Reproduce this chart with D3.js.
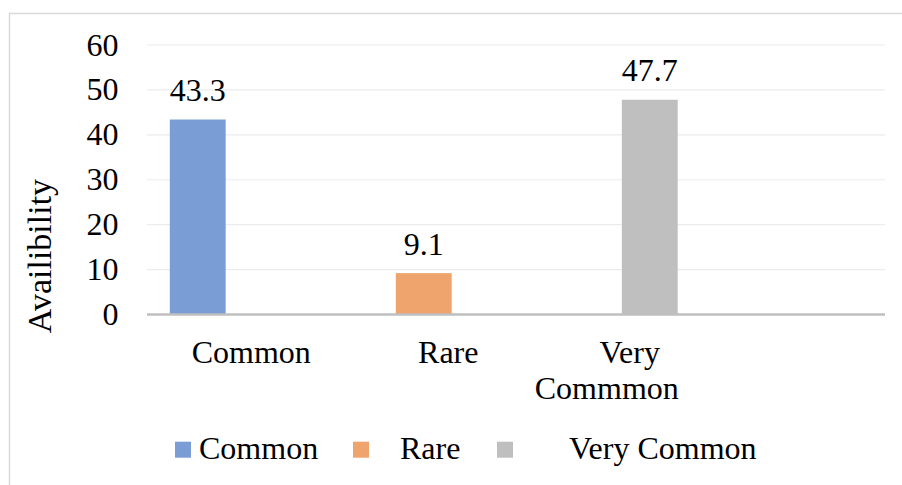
<!DOCTYPE html>
<html>
<head>
<meta charset="utf-8">
<script src="https://cdn.jsdelivr.net/npm/d3@7"></script>
<style>
  html, body { margin: 0; padding: 0; background: #fff; }
  svg { display: block; }
  svg text { font-family: "Liberation Serif", "Times New Roman", serif; fill: #000; }
</style>
</head>
<body>
<svg id="chart" width="902" height="485"></svg>
<script>
// Category slots on the x axis (the last slot is left empty)
const categories = ["Common", "Rare", "Very Commmon", ""];
// Series names, as shown in the legend
const seriesNames = ["Common", "Rare", "Very Common"];
// Values per series, one entry per category slot
const commonValues = [43.3, null, null, null];
const rareValues = [null, 9.1, null, null];
const veryCommonValues = [null, null, 47.7, null];
// Y axis ticks
const yTicks = [0, 10, 20, 30, 40, 50, 60];
const seriesColors = ["#7b9dd5", "#f0a46d", "#bfbfbf"];

const seriesValues = [commonValues, rareValues, veryCommonValues];

const svg = d3.select("#chart");
const W = 902, H = 485;
const plot = { left: 147, right: 885, top: 44.5, bottom: 314 };
const FS = 32;
const FONT = "Liberation Serif";

// Outer chart frame
svg.append("rect")
  .attr("x", 9.5).attr("y", 13.5)
  .attr("width", W + 10).attr("height", H + 10)
  .attr("fill", "none").attr("stroke", "#d9d9d9").attr("stroke-width", 1.5);

const x = d3.scaleBand().domain(categories).range([plot.left, plot.right]).padding(0);
const y = d3.scaleLinear().domain([0, 60]).range([plot.bottom, plot.top]);

// Series positions inside each category slot (bars overlap slightly)
const bw = x.bandwidth();
const xs = d3.scalePoint().domain(seriesNames).range([bw / 2 - 0.225 * bw, bw / 2 + 0.225 * bw]);
const barW = 0.303 * bw;

// Gridlines and y tick labels
const yAxis = d3.axisLeft(y).tickValues(yTicks).tickSize(-(plot.right - plot.left)).tickFormat(d => d);
const gy = svg.append("g").attr("transform", `translate(${plot.left},0)`).call(yAxis);
gy.select(".domain").remove();
gy.selectAll(".tick line").attr("stroke", "#ececec").attr("stroke-width", 1.2);
gy.selectAll(".tick text")
  .attr("x", 118.5 - plot.left).attr("dy", "0.33em")
  .attr("font-size", FS).attr("font-family", FONT).attr("fill", "#000");

// Bars
const barData = [];
seriesValues.forEach((vals, si) => {
  vals.forEach((v, ci) => {
    if (v != null) barData.push({ s: seriesNames[si], si, c: categories[ci], v });
  });
});

svg.append("g").selectAll("rect").data(barData).join("rect")
  .attr("x", d => x(d.c) + xs(d.s) - barW / 2)
  .attr("y", d => y(d.v))
  .attr("width", barW)
  .attr("height", d => y(0) - y(d.v))
  .attr("fill", d => seriesColors[d.si]);

// Value labels
svg.append("g").selectAll("text").data(barData).join("text")
  .attr("x", d => x(d.c) + xs(d.s))
  .attr("y", d => y(d.v) - 18.5)
  .attr("text-anchor", "middle")
  .attr("font-family", FONT)
  .attr("font-size", FS)
  .text(d => d.v);

// X axis baseline
svg.append("line")
  .attr("x1", plot.left).attr("x2", plot.right)
  .attr("y1", y(0) + 0.5).attr("y2", y(0) + 0.5)
  .attr("stroke", "#bfbfbf").attr("stroke-width", 2.5);

// Category labels
const xAxis = d3.axisBottom(x).tickSize(0).tickFormat("");
const gx = svg.append("g").attr("transform", `translate(0,${plot.bottom})`).call(xAxis);
gx.select(".domain").remove();
const labelLines = {
  "Common": [{ t: "Common", dx: 12 }],
  "Rare": [{ t: "Rare", dx: 24.5 }],
  "Very Commmon": [{ t: "Very", dx: 21.5 }, { t: "Commmon", dx: -1.5 }],
  "": []
};
gx.selectAll(".tick").each(function (d) {
  const g = d3.select(this);
  g.select("text").remove();
  const t = g.append("text").attr("text-anchor", "middle")
    .attr("font-family", FONT).attr("font-size", FS).attr("y", 49);
  labelLines[d].forEach((ln, i) => {
    t.append("tspan").attr("x", ln.dx).attr("dy", i === 0 ? 0 : 35.5).text(ln.t);
  });
});

// Y axis title
svg.append("text")
  .attr("transform", "translate(50.5,256) rotate(-90)")
  .attr("text-anchor", "middle")
  .attr("font-family", FONT)
  .attr("font-size", 34)
  .text("Availibility");

// Legend
const legendItems = [
  { name: seriesNames[0], sx: 175, tx: 199 },
  { name: seriesNames[1], sx: 353, tx: 400 },
  { name: seriesNames[2], sx: 497, tx: 569 }
];
const lg = svg.append("g");
legendItems.forEach((it, i) => {
  lg.append("rect").attr("x", it.sx).attr("y", 441.7).attr("width", 16).attr("height", 16)
    .attr("fill", seriesColors[i]);
  lg.append("text").attr("x", it.tx).attr("y", 459.3)
    .attr("font-family", FONT).attr("font-size", FS).text(it.name);
});
</script>
</body>
</html>
